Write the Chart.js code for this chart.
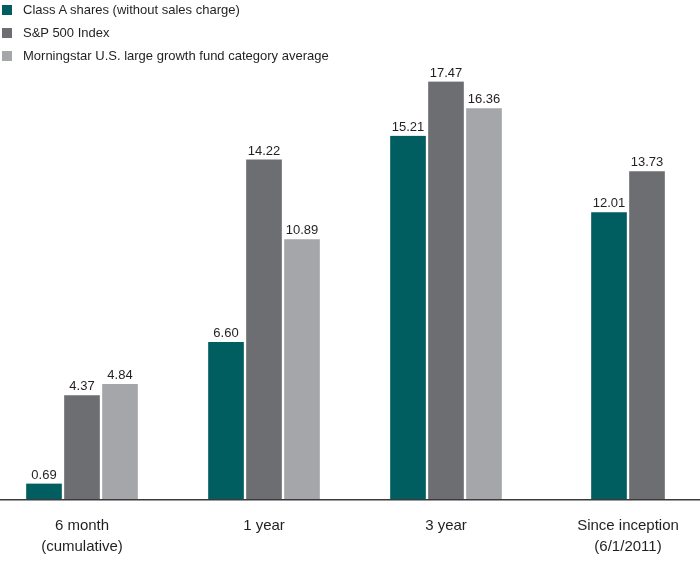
<!DOCTYPE html>
<html>
<head>
<meta charset="utf-8">
<script src="https://cdn.jsdelivr.net/npm/chart.js@4.4.1/dist/chart.umd.min.js"></script>
<style>
  html, body { margin: 0; padding: 0; width: 700px; height: 579px; overflow: hidden; background: #fff; }
  #wrap { position: absolute; left: -9px; top: 0; width: 728px; height: 579px; }
  #legend { position: absolute; left: 2px; top: 0; font-family: 'Liberation Sans', Arial, sans-serif; font-size: 13px; color: #231f20; }
  .item { position: absolute; left: 0; white-space: nowrap; height: 20px; line-height: 20px; }
  .sw { position: absolute; left: 0; top: 5px; width: 10px; height: 10px; }
  .lt { position: absolute; left: 21px; top: 0; }
</style>
</head>
<body>
<div id="wrap"><canvas id="c" width="728" height="579"></canvas></div>
<div id="legend"></div>
<script>
const categories = [["6 month", "(cumulative)"], "1 year", "3 year", ["Since inception", "(6/1/2011)"]];
const seriesNames = ["Class A shares (without sales charge)", "S&P 500 Index", "Morningstar U.S. large growth fund category average"];
const classA = [0.69, 6.60, 15.21, 12.01];
const sp500 = [4.37, 14.22, 17.47, 13.73];
const morningstar = [4.84, 10.89, 16.36, null];
const colors = ["#005e60", "#6d6e71", "#a4a6a9"];

const legend = document.getElementById('legend');
seriesNames.forEach((n, i) => {
  const d = document.createElement('div');
  d.className = 'item';
  d.style.top = (i * 23) + 'px';
  d.innerHTML = '<span class="sw" style="background:' + colors[i] + '"></span><span class="lt"></span>';
  d.querySelector('.lt').textContent = n;
  legend.appendChild(d);
});

const valueLabels = {
  id: 'valueLabels',
  afterDatasetsDraw(chart) {
    const ctx = chart.ctx;
    ctx.save();
    ctx.font = "13px 'Liberation Sans', Arial, sans-serif";
    ctx.fillStyle = '#231f20';
    ctx.textAlign = 'center';
    ctx.textBaseline = 'bottom';
    chart.data.datasets.forEach((ds, di) => {
      const meta = chart.getDatasetMeta(di);
      meta.data.forEach((el, i) => {
        const v = ds.data[i];
        if (v === null || v === undefined) return;
        ctx.fillText(v.toFixed(2), el.x, el.y - 2);
      });
    });
    ctx.restore();
  }
};

new Chart(document.getElementById('c'), {
  type: 'bar',
  data: {
    labels: categories,
    datasets: [
      { label: seriesNames[0], data: classA, backgroundColor: colors[0] },
      { label: seriesNames[1], data: sp500, backgroundColor: colors[1] },
      { label: seriesNames[2], data: morningstar, backgroundColor: colors[2] }
    ]
  },
  options: {
    responsive: false,
    animation: false,
    skipNull: true,
    barThickness: 38,
    borderColor: '#ffffff',
    borderWidth: { left: 1.5, right: 1.5, top: 0, bottom: 0 },
    borderSkipped: false,
    layout: { padding: { top: 21, left: 0, right: 0, bottom: 0 } },
    plugins: { legend: { display: false }, tooltip: { enabled: false } },
    scales: {
      x: {
        grid: { display: false },
        border: { display: true, color: '#3a3a3a', width: 1.5, z: 1 },
        ticks: {
          color: '#231f20',
          padding: 8,
          font: { family: "'Liberation Sans', Arial, sans-serif", size: 15, lineHeight: 1.35 },
          maxRotation: 0
        },
        afterFit(scale) { scale.height = 79; }
      },
      y: {
        display: false,
        min: 0,
        max: 20
      }
    }
  },
  plugins: [valueLabels]
});
</script>
</body>
</html>
